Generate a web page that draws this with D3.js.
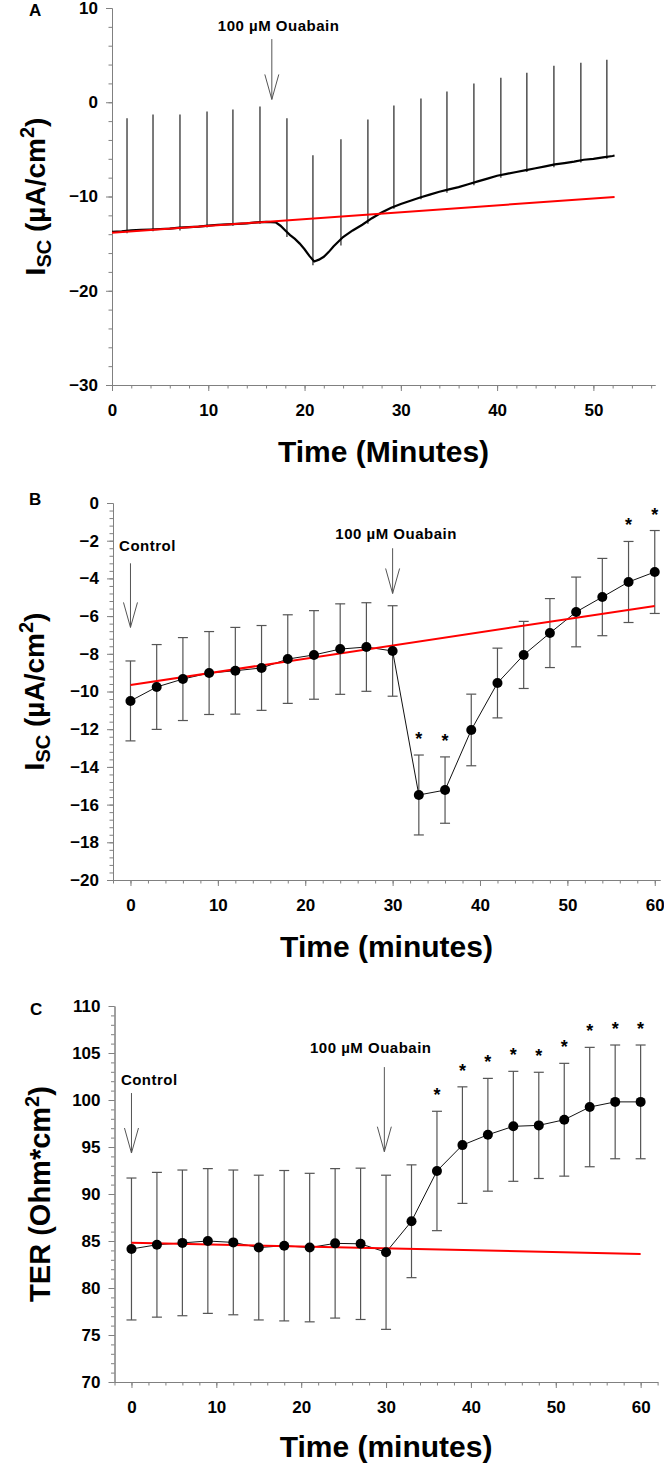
<!DOCTYPE html>
<html>
<head>
<meta charset="utf-8">
<script src="https://cdn.jsdelivr.net/npm/d3@7"></script>
<style>
  body { margin: 0; background: #fff; }
  svg text { font-family: "Liberation Sans", Arial, sans-serif; font-weight: bold; fill: #000; }
  .axis .domain, .axis line { stroke: #808080; }
  .axis text { font-size: 17px; }
</style>
</head>
<body>
<svg id="fig" width="664" height="1465"></svg>
<script>
// ---------- panel A : raw Isc recording ----------
const traceTime = [0, 1, 2, 3, 4, 5, 6, 7, 8, 9, 10, 11, 12, 13, 14, 15, 16, 17, 17.5, 18, 18.5, 19, 19.5, 20, 20.5, 21,
    21.5, 22, 22.5, 23, 23.5, 24, 25, 26, 27, 28, 29, 30, 31, 32, 33, 34, 35, 36, 37, 38, 39, 40, 41, 42, 43, 44, 45, 46,
    47, 48, 49, 50, 51, 52, 52.2]
const traceIsc = [-13.75, -13.7, -13.6, -13.55, -13.5, -13.45, -13.4, -13.3, -13.25, -13.2, -13.1, -13.0, -12.95, -12.9,
    -12.85, -12.75, -12.7, -12.75, -13.1, -13.6, -14.1, -14.5, -15.0, -15.6, -16.3, -16.9, -16.7, -16.4, -15.9, -15.3,
    -14.8, -14.3, -13.6, -13.0, -12.3, -11.7, -11.2, -10.8, -10.45, -10.1, -9.8, -9.5, -9.25, -9.0, -8.7, -8.4, -8.1,
    -7.8, -7.6, -7.4, -7.2, -7.0, -6.8, -6.6, -6.45, -6.3, -6.1, -6.0, -5.85, -5.7, -5.65]
const spikeTime = [1.56, 4.26, 7.06, 9.87, 12.56, 15.37, 18.17, 20.87, 23.78, 26.58, 29.28, 32.09, 34.79, 37.59, 40.39,
    43.09, 45.9, 48.7, 51.4]
const spikeTop = [-1.71, -1.29, -1.29, -0.97, -0.77, -0.45, -1.71, -5.62, -3.93, -1.82, -0.34, 0.4, 1.13, 1.98, 2.61,
    3.14, 3.88, 4.2, 4.51]
const spikeBottom = [-13.9, -13.7, -13.6, -13.3, -13.1, -12.9, -14.3, -17.3, -15.2, -12.9, -11.3, -10.3, -9.6, -8.8,
    -8.0, -7.4, -6.9, -6.4, -6.0]
const fitTimeA = [0, 52.2]
const fitIscA = [-13.85, -10.05]
const xTicksA = [0, 10, 20, 30, 40, 50]
const yTicksA = [-30, -20, -10, 0, 10]

// ---------- panel B : mean Isc ----------
const timeB = [0, 3, 6, 9, 12, 15, 18, 21, 24, 27, 30, 33, 36, 39, 42, 45, 48, 51, 54, 57, 60]
const iscMean = [-10.5, -9.76, -9.34, -9.02, -8.9, -8.75, -8.28, -8.06, -7.75, -7.64, -7.85, -15.49, -15.23, -12.04,
    -9.55, -8.06, -6.9, -5.78, -4.99, -4.19, -3.66]
const iscErr = [2.12, 2.25, 2.2, 2.2, 2.3, 2.25, 2.35, 2.35, 2.4, 2.35, 2.4, 2.12, 1.76, 1.9, 1.85, 1.78, 1.83, 1.85,
    2.05, 2.15, 2.2]
const starB = [33, 36, 57, 60]
const fitTimeB = [0, 60]
const fitIscB = [-9.66, -5.46]
const xTicksB = [0, 10, 20, 30, 40, 50, 60]
const yTicksB = [-20, -18, -16, -14, -12, -10, -8, -6, -4, -2, 0]

// ---------- panel C : TER ----------
const timeC = [0, 3, 6, 9, 12, 15, 18, 21, 24, 27, 30, 33, 36, 39, 42, 45, 48, 51, 54, 57, 60]
const terMean = [84.15, 84.6, 84.8, 85.0, 84.85, 84.3, 84.5, 84.3, 84.75, 84.7, 83.8, 87.1, 92.45, 95.2, 96.3, 97.2,
    97.3, 97.9, 99.25, 99.8, 99.8]
const terErr = [7.55, 7.7, 7.75, 7.7, 7.7, 7.7, 8.0, 7.9, 7.95, 8.05, 8.2, 6.0, 6.35, 6.2, 6.0, 5.85, 5.65, 6.0, 6.35,
    6.05, 6.05]
const starC = [36, 39, 42, 45, 48, 51, 54, 57, 60]
const fitTimeC = [0, 60]
const fitTerC = [84.82, 83.62]
const xTicksC = [0, 10, 20, 30, 40, 50, 60]
const yTicksC = [70, 75, 80, 85, 90, 95, 100, 105, 110]


const svg = d3.select('#fig')

function addAxes(x, y, xMajor, xMinor, yMajor, yMinor) {
    const x0 = x.range()[0], y0 = y.range()[0]
    const xg = svg.append('g').attr('class', 'axis').attr('transform', `translate(0,${y0})`)
    xg.append('g').call(d3.axisBottom(x).tickValues(xMinor).tickSize(3.5).tickFormat('').tickSizeOuter(0))
    xg.append('g').call(d3.axisBottom(x).tickValues(xMajor).tickSize(6).tickPadding(13).tickSizeOuter(0))
    const yg = svg.append('g').attr('class', 'axis').attr('transform', `translate(${x0},0)`)
    yg.append('g').call(d3.axisLeft(y).tickValues(yMinor).tickSize(3.5).tickFormat('').tickSizeOuter(0))
    yg.append('g').call(d3.axisLeft(y).tickValues(yMajor).tickSize(6).tickPadding(8).tickSizeOuter(0))
    svg.selectAll('.axis g').attr('font-size', null).attr('font-family', null)
}

function panelLabel(txt, px, py) {
    svg.append('text').attr('x', px).attr('y', py).attr('font-size', 17).text(txt)
}

function xTitle(x, baseline, txt) {
    const r = x.range()
    svg.append('text').attr('x', (r[0] + r[1]) / 2).attr('y', baseline)
        .attr('text-anchor', 'middle').attr('font-size', 30).text(txt)
}

function iscTitle(y, bx) {
    const r = y.range()
    const t = svg.append('text').attr('text-anchor', 'middle').attr('font-size', 28)
        .attr('transform', `translate(${bx},${(r[0] + r[1]) / 2}) rotate(-90)`)
    t.append('tspan').text('I')
    t.append('tspan').attr('font-size', 20).attr('dy', 6).text('SC')
    t.append('tspan').attr('dy', -6).text(' (µA/cm')
    t.append('tspan').attr('font-size', 20).attr('dy', -11).text('2')
    t.append('tspan').attr('dy', 11).text(')')
}

function arrow(x, y, a) {
    svg.append('text').attr('x', x(a.textT)).attr('y', y(a.textV)).attr('text-anchor', 'middle')
        .attr('font-size', 15).attr('letter-spacing', 0.5).text(a.label)
    const ax = x(a.arrowT), top = y(a.top), tip = y(a.tip)
    svg.append('line').attr('x1', ax).attr('x2', ax).attr('y1', top).attr('y2', tip)
        .attr('stroke', '#555').attr('stroke-width', 1)
    svg.append('polyline').attr('points', `${ax - 7},${tip - 25} ${ax},${tip} ${ax + 7},${tip - 25}`)
        .attr('fill', 'none').attr('stroke', '#555').attr('stroke-width', 1)
}

function meanPanel(x, y, times, mean, err, stars, fitT, fitV) {
    const rows = times.map((t, i) => ({t, m: mean[i], e: err[i]}))
    const eb = svg.append('g').attr('stroke', '#555').attr('stroke-width', 1.2)
    rows.forEach(d => {
        const cx = x(d.t)
        eb.append('line').attr('x1', cx).attr('x2', cx).attr('y1', y(d.m + d.e)).attr('y2', y(d.m - d.e))
        eb.append('line').attr('x1', cx - 5).attr('x2', cx + 5).attr('y1', y(d.m + d.e)).attr('y2', y(d.m + d.e))
        eb.append('line').attr('x1', cx - 5).attr('x2', cx + 5).attr('y1', y(d.m - d.e)).attr('y2', y(d.m - d.e))
    })
    svg.append('path').datum(rows)
        .attr('d', d3.line().x(d => x(d.t)).y(d => y(d.m)))
        .attr('fill', 'none').attr('stroke', '#111').attr('stroke-width', 1)
    svg.append('path').datum(fitT.map((t, i) => [t, fitV[i]]))
        .attr('d', d3.line().x(d => x(d[0])).y(d => y(d[1])))
        .attr('stroke', '#f00').attr('stroke-width', 2)
    svg.append('g').selectAll('circle').data(rows).join('circle')
        .attr('cx', d => x(d.t)).attr('cy', d => y(d.m)).attr('r', 5).attr('fill', '#000')
    svg.append('g').selectAll('text').data(rows.filter(d => stars.includes(d.t))).join('text')
        .attr('x', d => x(d.t)).attr('y', d => y(d.m + d.e) - 10)
        .attr('text-anchor', 'middle').attr('font-size', 18).text('*')
}

// ---- A
const xA = d3.scaleLinear().domain([0, 56.4]).range([112, 655])
const yA = d3.scaleLinear().domain([-30, 10]).range([385, 8])
addAxes(xA, yA, xTicksA, d3.range(0, 57, 2), yTicksA, d3.range(-30, 11, 2))
svg.append('g').selectAll('line').data(spikeTime).join('line')
    .attr('x1', d => xA(d)).attr('x2', d => xA(d))
    .attr('y1', (d, i) => yA(spikeTop[i])).attr('y2', (d, i) => yA(spikeBottom[i]))
    .attr('stroke', '#333').attr('stroke-width', 1.3)
svg.append('path').datum(traceTime.map((t, i) => [t, traceIsc[i]]))
    .attr('d', d3.line().x(d => xA(d[0])).y(d => yA(d[1])))
    .attr('fill', 'none').attr('stroke', '#000').attr('stroke-width', 2.2)
svg.append('path').datum(fitTimeA.map((t, i) => [t, fitIscA[i]]))
    .attr('d', d3.line().x(d => xA(d[0])).y(d => yA(d[1])))
    .attr('stroke', '#f00').attr('stroke-width', 2)
arrow(xA, yA, {label: '100 µM Ouabain', textT: 17.3, textV: 7.6, arrowT: 16.6, top: 6.7, tip: 0.3})
panelLabel('A', 29, 16)
xTitle(xA, 462, 'Time (Minutes)')
iscTitle(yA, 45)

// ---- B
const xB = d3.scaleLinear().domain([-2, 60.6]).range([113, 660])
const yB = d3.scaleLinear().domain([-20, 0]).range([880, 503])
addAxes(xB, yB, xTicksB, d3.range(-2, 61, 2), yTicksB, d3.range(0, 51).map(i => -20 + i * 0.4))
meanPanel(xB, yB, timeB, iscMean, iscErr, starB, fitTimeB, fitIscB)
arrow(xB, yB, {label: 'Control', textT: 1.95, textV: -2.55, arrowT: 0, top: -3.2, tip: -6.6})
arrow(xB, yB, {label: '100 µM Ouabain', textT: 30.4, textV: -1.9, arrowT: 30, top: -2.4, tip: -4.8})
panelLabel('B', 29, 505)
xTitle(xB, 957, 'Time (minutes)')
iscTitle(yB, 44)

// ---- C
const xC = d3.scaleLinear().domain([-2, 62]).range([114.5, 657.6])
const yC = d3.scaleLinear().domain([70, 110]).range([1382, 1006])
addAxes(xC, yC, xTicksC, d3.range(-2, 63, 2), yTicksC, d3.range(70, 111, 1))
meanPanel(xC, yC, timeC, terMean, terErr, starC, fitTimeC, fitTerC)
arrow(xC, yC, {label: 'Control', textT: 2.1, textV: 101.6, arrowT: 0, top: 100.74, tip: 94.36})
arrow(xC, yC, {label: '100 µM Ouabain', textT: 28.2, textV: 105.0, arrowT: 29.8, top: 103.5, tip: 94.5})
panelLabel('C', 30, 1015)
xTitle(xC, 1457, 'Time (minutes)')
{
    const r = yC.range()
    const t = svg.append('text').attr('text-anchor', 'middle').attr('font-size', 29)
        .attr('transform', `translate(50,${(r[0] + r[1]) / 2}) rotate(-90)`)
    t.append('tspan').text('TER (Ohm*cm')
    t.append('tspan').attr('font-size', 20).attr('dy', -11).text('2')
    t.append('tspan').attr('dy', 11).text(')')
}
</script>
</body>
</html>
